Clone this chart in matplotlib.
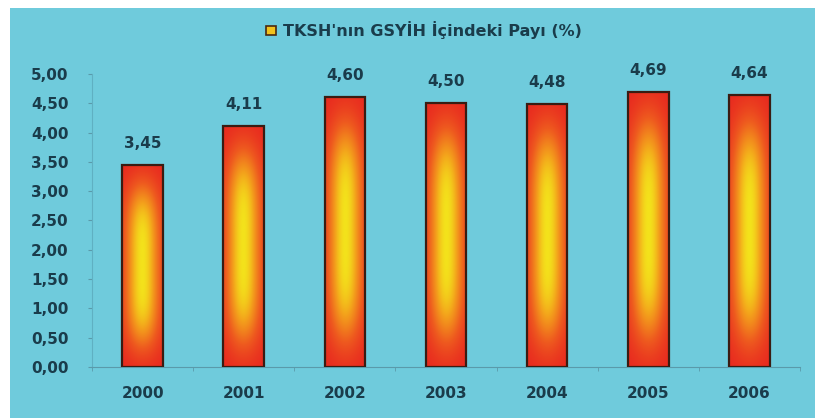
import numpy as np
import matplotlib.pyplot as plt
from matplotlib.colors import LinearSegmentedColormap
from matplotlib.patches import Rectangle

years = ['2000', '2001', '2002', '2003', '2004', '2005', '2006']
values = [3.45, 4.11, 4.60, 4.50, 4.48, 4.69, 4.64]
labels = ['3,45', '4,11', '4,60', '4,50', '4,48', '4,69', '4,64']
yticks = [0, 0.5, 1, 1.5, 2, 2.5, 3, 3.5, 4, 4.5, 5]
series_name = "TKSH'nın GSYİH İçindeki Payı (%)"

bg = '#6fcbdc'
txt = '#1a3c4b'

fig = plt.figure(figsize=(8.15, 4.18), dpi=100, facecolor='white')
fig.patches.append(Rectangle((10 / 815, 0), 1, 1 - 8 / 418, transform=fig.transFigure,
                             facecolor=bg, edgecolor='none', zorder=-5))
ax = fig.add_axes([92 / 815, 1 - 367 / 418, 708 / 815, 293 / 418])
ax.set_facecolor('none')

cmap = LinearSegmentedColormap.from_list('fire', ['#e8281f', '#ee5a1f', '#f39a1c', '#f3e21b'])
u = np.linspace(-1, 1, 60)
v = np.linspace(0, 1, 200)
U, V = np.meshgrid(u, v)
grad = np.exp(-(U / 0.85) ** 2) * np.exp(-((V - 0.5) / 0.4) ** 4)

x = np.arange(len(years))
bars = ax.bar(x, values, width=0.4, facecolor='none', edgecolor='#3a1c12', linewidth=1.6, zorder=3)
for b in bars:
    x0, w, h = b.get_x(), b.get_width(), b.get_height()
    im = ax.imshow(grad, cmap=cmap, vmin=0, vmax=1, extent=[x0, x0 + w, 0, h],
                   origin='lower', aspect='auto', zorder=2, interpolation='bilinear')
    im.set_clip_path(b)

for xi, val, lab in zip(x, values, labels):
    ax.text(xi, val + 0.24, lab, ha='center', va='bottom', fontsize=11, color=txt, fontweight='bold')

ax.set_xlim(-0.5, len(years) - 0.5)
ax.set_ylim(0, 5)
ax.set_yticks(yticks)
ax.set_yticklabels([('%.2f' % t).replace('.', ',') for t in yticks])
ax.set_xticks(x)
ax.set_xticklabels(years)
ax.set_xticks(np.arange(-0.5, len(years), 1), minor=True)
ax.tick_params(axis='x', which='major', length=0, pad=14, labelsize=11, labelcolor=txt)
ax.tick_params(axis='x', which='minor', length=3, color='#5a9aaa')
ax.tick_params(axis='y', length=3, color='#5a9aaa', pad=14, labelsize=11, labelcolor=txt)
for t in ax.get_xticklabels() + ax.get_yticklabels():
    t.set_fontweight('bold')
for s in ['top', 'right']:
    ax.spines[s].set_visible(False)
ax.spines['left'].set_color('#5fb0c2')
ax.spines['bottom'].set_color('#5a9aaa')

fig.patches.append(Rectangle((266 / 815, 1 - 35 / 418), 10 / 815, 9 / 418, transform=fig.transFigure,
                             facecolor='#f2c21c', edgecolor='#4a2a10', linewidth=1.2, zorder=5))
fig.text(283 / 815, 1 - 30 / 418, series_name, ha='left', va='center', fontsize=11.5,
         color=txt, fontweight='bold')

fig.savefig('out.png', dpi=100, facecolor='white')
